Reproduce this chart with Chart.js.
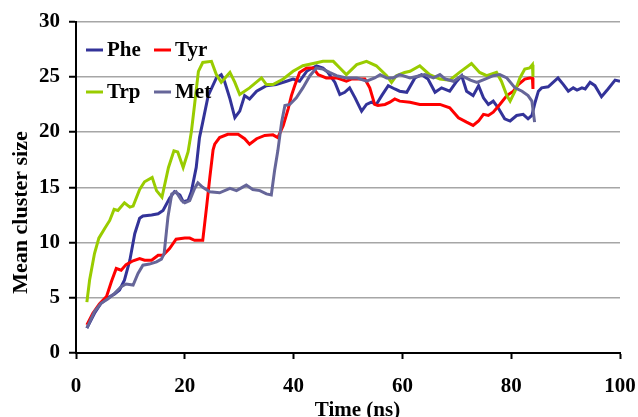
<!doctype html>
<html lang="en">
<head>
  <meta charset="utf-8" />
  <title>Mean cluster size</title>
  <style>
    html, body { margin: 0; padding: 0; background: #fff; }
    #canva { width: 638px; height: 417px; }
  </style>
</head>
<body>
<div id="canva"><canvas id="myChart" width="638" height="417"></canvas></div>
<script src="https://cdn.jsdelivr.net/npm/chart.js@4/dist/chart.umd.min.js"></script>
<script>
// values (time in ns, mean cluster size)
var pheTime = [2, 3.4, 4.6, 5.9, 7.1, 8.0, 8.9, 9.9, 10.8, 11.7, 12.3, 13.9, 15.1, 16.0, 17.2, 18.1, 19.1, 19.7, 20.6, 21.2,
  22.1, 22.7, 23.3, 24.3, 25.8, 26.7, 27.3, 28.3, 29.2, 30.1, 31.0, 31.9, 33.2, 35.0, 36.8, 38.7, 39.9, 41.1, 42.4, 44.2,
  45.4, 46.3, 47.6, 48.5, 49.4, 50.3, 51.3, 52.5, 53.4, 54.3, 55.2, 56.2, 57.4, 58.6, 59.5, 60.8, 62.3, 63.5, 64.7, 66.0,
  67.2, 68.7, 70.0, 70.9, 71.8, 73.0, 74.0, 74.9, 75.8, 76.7, 77.6, 78.8, 79.8, 81.0, 82.2, 83.1, 83.8, 84.4, 85.0, 85.6,
  86.8, 87.7, 88.6, 89.6, 90.5, 91.4, 92.1, 93.0, 93.6, 94.5, 95.4, 96.6, 97.8, 99.1, 100];
var pheSize = [2.25, 3.6, 4.5, 5.0, 5.35, 5.7, 6.6, 8.4, 10.8, 12.2, 12.4, 12.5, 12.6, 12.9, 14.0, 14.6, 14.3, 13.7, 13.8, 14.6,
  16.8, 19.5, 20.9, 23.3, 24.9, 25.2, 24.6, 23.0, 21.3, 21.9, 23.3, 23.0, 23.7, 24.2, 24.3, 24.6, 24.8, 24.6, 25.5, 26.0,
  25.8, 25.4, 24.5, 23.4, 23.6, 24.0, 23.1, 21.9, 22.5, 22.7, 22.5, 23.3, 24.2, 23.9, 23.7, 23.6, 24.9, 25.2, 24.8, 23.6,
  24.0, 23.7, 24.6, 25.1, 23.7, 23.3, 24.2, 23.1, 22.5, 22.8, 22.2, 21.2, 21.0, 21.5, 21.6, 21.2, 21.5, 22.7, 23.7, 24.0,
  24.1, 24.5, 24.9, 24.3, 23.7, 24.0, 23.8, 24.0, 23.9, 24.5, 24.2, 23.2, 23.9, 24.7, 24.6];

var tyrTime = [2, 3.1, 4.3, 5.6, 6.5, 7.4, 8.3, 9.2, 10.5, 11.7, 12.6, 13.9, 15.1, 16.0, 17.2, 18.4, 20.0, 20.9, 21.8, 23.3,
  24.0, 24.6, 25.2, 25.5, 26.4, 27.9, 29.8, 31.0, 31.9, 33.2, 34.7, 36.2, 37.1, 38.1, 39.0, 39.6, 40.2, 41.1, 42.4, 43.6,
  44.5, 46.0, 47.9, 49.7, 50.6, 51.6, 53.1, 54.0, 54.9, 55.5, 56.8, 57.7, 58.6, 59.5, 61.4, 63.2, 65.0, 66.9, 68.7, 70.3,
  71.8, 73.0, 74.0, 74.9, 75.8, 76.7, 77.9, 79.2, 80.4, 81.3, 82.5, 83.4, 83.9, 84.0];
var tyrSize = [2.55, 3.6, 4.45, 5.1, 6.45, 7.65, 7.5, 8.0, 8.35, 8.55, 8.4, 8.4, 8.85, 8.85, 9.45, 10.3, 10.4, 10.4, 10.2, 10.2,
  13.2, 15.9, 18.4, 18.9, 19.5, 19.8, 19.8, 19.4, 18.9, 19.4, 19.7, 19.75, 19.5, 20.6, 22.1, 23.3, 24.2, 25.4, 25.8, 25.8,
  25.2, 24.9, 24.9, 24.6, 24.8, 24.8, 24.8, 24.0, 22.5, 22.4, 22.5, 22.7, 23.0, 22.8, 22.7, 22.5, 22.5, 22.5, 22.2, 21.3,
  20.9, 20.6, 21.0, 21.6, 21.5, 21.8, 22.5, 23.3, 23.7, 24.3, 24.8, 24.9, 24.9, 23.9];

var trpTime = [2.0, 2.5, 3.4, 4.2, 5.3, 6.2, 7.0, 7.7, 8.9, 9.9, 10.5, 11.7, 12.6, 14.0, 14.8, 15.8, 17.0, 18.0, 18.7, 19.7,
  20.6, 21.2, 21.8, 22.5, 23.3, 24.9, 25.8, 26.7, 28.3, 29.2, 30.1, 31.9, 34.1, 35.0, 36.2, 38.1, 39.9, 41.7, 43.6, 45.4,
  47.3, 48.5, 49.7, 51.6, 53.4, 55.2, 57.1, 58.0, 58.9, 60.4, 61.4, 63.2, 65.0, 66.9, 68.7, 70.5, 72.7, 74.2, 75.5, 77.3,
  78.2, 79.2, 79.8, 80.7, 81.6, 82.5, 83.4, 83.9, 84.0];
var trpSize = [4.6, 6.6, 9.0, 10.4, 11.3, 12.0, 13.0, 12.9, 13.6, 13.2, 13.3, 14.8, 15.5, 15.9, 14.7, 14.1, 16.8, 18.3, 18.2, 16.8,
  18.2, 20.0, 22.5, 25.5, 26.3, 26.4, 25.2, 24.5, 25.4, 24.5, 23.4, 24.0, 24.9, 24.3, 24.3, 24.8, 25.5, 26.0, 26.2, 26.4,
  26.4, 25.8, 25.2, 26.1, 26.4, 26.0, 25.1, 24.5, 25.1, 25.4, 25.5, 26.0, 25.2, 24.8, 24.7, 25.4, 26.2, 25.4, 25.1, 25.4,
  24.6, 23.3, 22.8, 23.7, 24.9, 25.7, 25.8, 26.1, 25.0];

var metTime = [2.0, 3.4, 4.6, 5.9, 7.1, 8.3, 9.2, 10.5, 11.4, 12.3, 13.5, 14.8, 15.7, 16.2, 16.9, 17.6, 18.4, 19.4, 20.0, 20.9,
  21.8, 22.4, 23.3, 24.6, 26.4, 28.3, 29.5, 31.3, 32.5, 33.8, 35.0, 35.9, 36.5, 37.1, 37.8, 38.4, 39.3, 40.5, 41.7, 43.0,
  44.2, 45.4, 46.6, 47.9, 49.7, 51.6, 53.4, 54.9, 55.9, 57.1, 58.3, 59.5, 61.4, 63.2, 64.1, 65.7, 66.9, 67.9, 69.4, 70.9,
  72.5, 73.7, 75.2, 76.7, 77.9, 79.2, 80.7, 82.0, 83.1, 83.8, 84.3];
var metSize = [2.25, 3.75, 4.5, 4.9, 5.4, 6.0, 6.25, 6.15, 7.2, 7.95, 8.05, 8.25, 8.5, 9.0, 12.3, 14.4, 14.6, 13.8, 13.6, 13.8,
  14.9, 15.4, 15.0, 14.6, 14.5, 14.9, 14.7, 15.2, 14.8, 14.7, 14.4, 14.3, 16.5, 18.3, 20.9, 22.4, 22.5, 23.1, 24.0, 25.1,
  25.8, 25.7, 25.4, 25.1, 24.9, 24.9, 24.6, 24.9, 25.2, 24.9, 24.9, 25.2, 24.9, 25.1, 25.2, 24.9, 25.2, 24.8, 24.6, 25.1,
  24.7, 24.5, 24.8, 25.1, 25.2, 24.9, 24.0, 23.7, 23.3, 22.8, 20.9];

var seriesNames = ['Phe', 'Tyr', 'Trp', 'Met'];
var xTitle = 'Time (ns)';
var yTitle = 'Mean cluster size';

function toPoints(t, v) {
  var pts = [];
  for (let i = 0; i < t.length; i++) {
    pts.push({x: t[i], y: v[i]});
  }
  return pts;
}

const FONT = 'Liberation Serif';

// legend inside the plot (two columns) and the two axis titles
const extras = {
  id: 'extras',
  afterDraw(chart) {
    const c = chart.ctx;
    c.save();
    c.fillStyle = '#000';
    c.font = 'bold 21px "' + FONT + '"';
    c.textBaseline = 'middle';
    const spots = [[86, 50], [154, 50], [86, 92], [154, 92]];
    chart.data.datasets.forEach(function (ds, i) {
      const p = spots[i];
      c.strokeStyle = ds.borderColor;
      c.lineWidth = 3;
      c.beginPath();
      c.moveTo(p[0], p[1]);
      c.lineTo(p[0] + 17, p[1]);
      c.stroke();
      c.textAlign = 'left';
      c.fillText(ds.label, p[0] + 21, p[1] + 1);
    });
    c.textAlign = 'center';
    c.textBaseline = 'alphabetic';
    c.fillText(xTitle, 357.5, 416);
    c.translate(26.5, 212.5);
    c.rotate(-Math.PI / 2);
    c.font = 'bold 22px "' + FONT + '"';
    c.fillText(yTitle, 0, 0);
    c.restore();
  }
};

function Draw() {
  const ctx = document.getElementById('myChart');
  const myChart = new Chart(ctx, {
    type: 'line',
    data: {
      datasets: [{
        label: seriesNames[0],
        data: toPoints(pheTime, pheSize),
        borderColor: '#333399',
        order: 4
      }, {
        label: seriesNames[1],
        data: toPoints(tyrTime, tyrSize),
        borderColor: '#ff0000',
        order: 3
      }, {
        label: seriesNames[2],
        data: toPoints(trpTime, trpSize),
        borderColor: '#99cc00',
        order: 2
      }, {
        label: seriesNames[3],
        data: toPoints(metTime, metSize),
        borderColor: '#666699',
        order: 1
      }]
    },
    options: {
      responsive: false,
      animation: false,
      layout: { padding: { top: 20, right: 0, left: 0, bottom: 0 } },
      elements: {
        point: { radius: 0 },
        line: { borderWidth: 3, tension: 0, fill: false }
      },
      plugins: {
        legend: { display: false },
        tooltip: { enabled: false },
        title: { display: false }
      },
      scales: {
        x: {
          type: 'linear',
          min: 0,
          max: 100,
          afterFit: function (s) { s.height = 64; s.paddingRight = 18; },
          ticks: {
            stepSize: 20,
            color: '#000',
            padding: 15,
            maxRotation: 0,
            font: { family: FONT, size: 21, weight: 'bold' }
          },
          grid: {
            drawOnChartArea: false,
            tickLength: 6,
            tickColor: '#000',
            tickWidth: 2
          },
          border: { color: '#000', width: 2 }
        },
        y: {
          min: 0,
          max: 30,
          afterFit: function (s) { s.width = 76; },
          ticks: {
            stepSize: 5,
            color: '#000',
            padding: 9,
            font: { family: FONT, size: 21, weight: 'bold' }
          },
          grid: {
            color: '#a6a6a6',
            lineWidth: 1.5,
            tickLength: 7,
            tickColor: '#000',
            tickWidth: 2
          },
          border: { color: '#000', width: 2 }
        }
      }
    },
    plugins: [extras]
  });
}
Draw();
</script>
</body>
</html>
